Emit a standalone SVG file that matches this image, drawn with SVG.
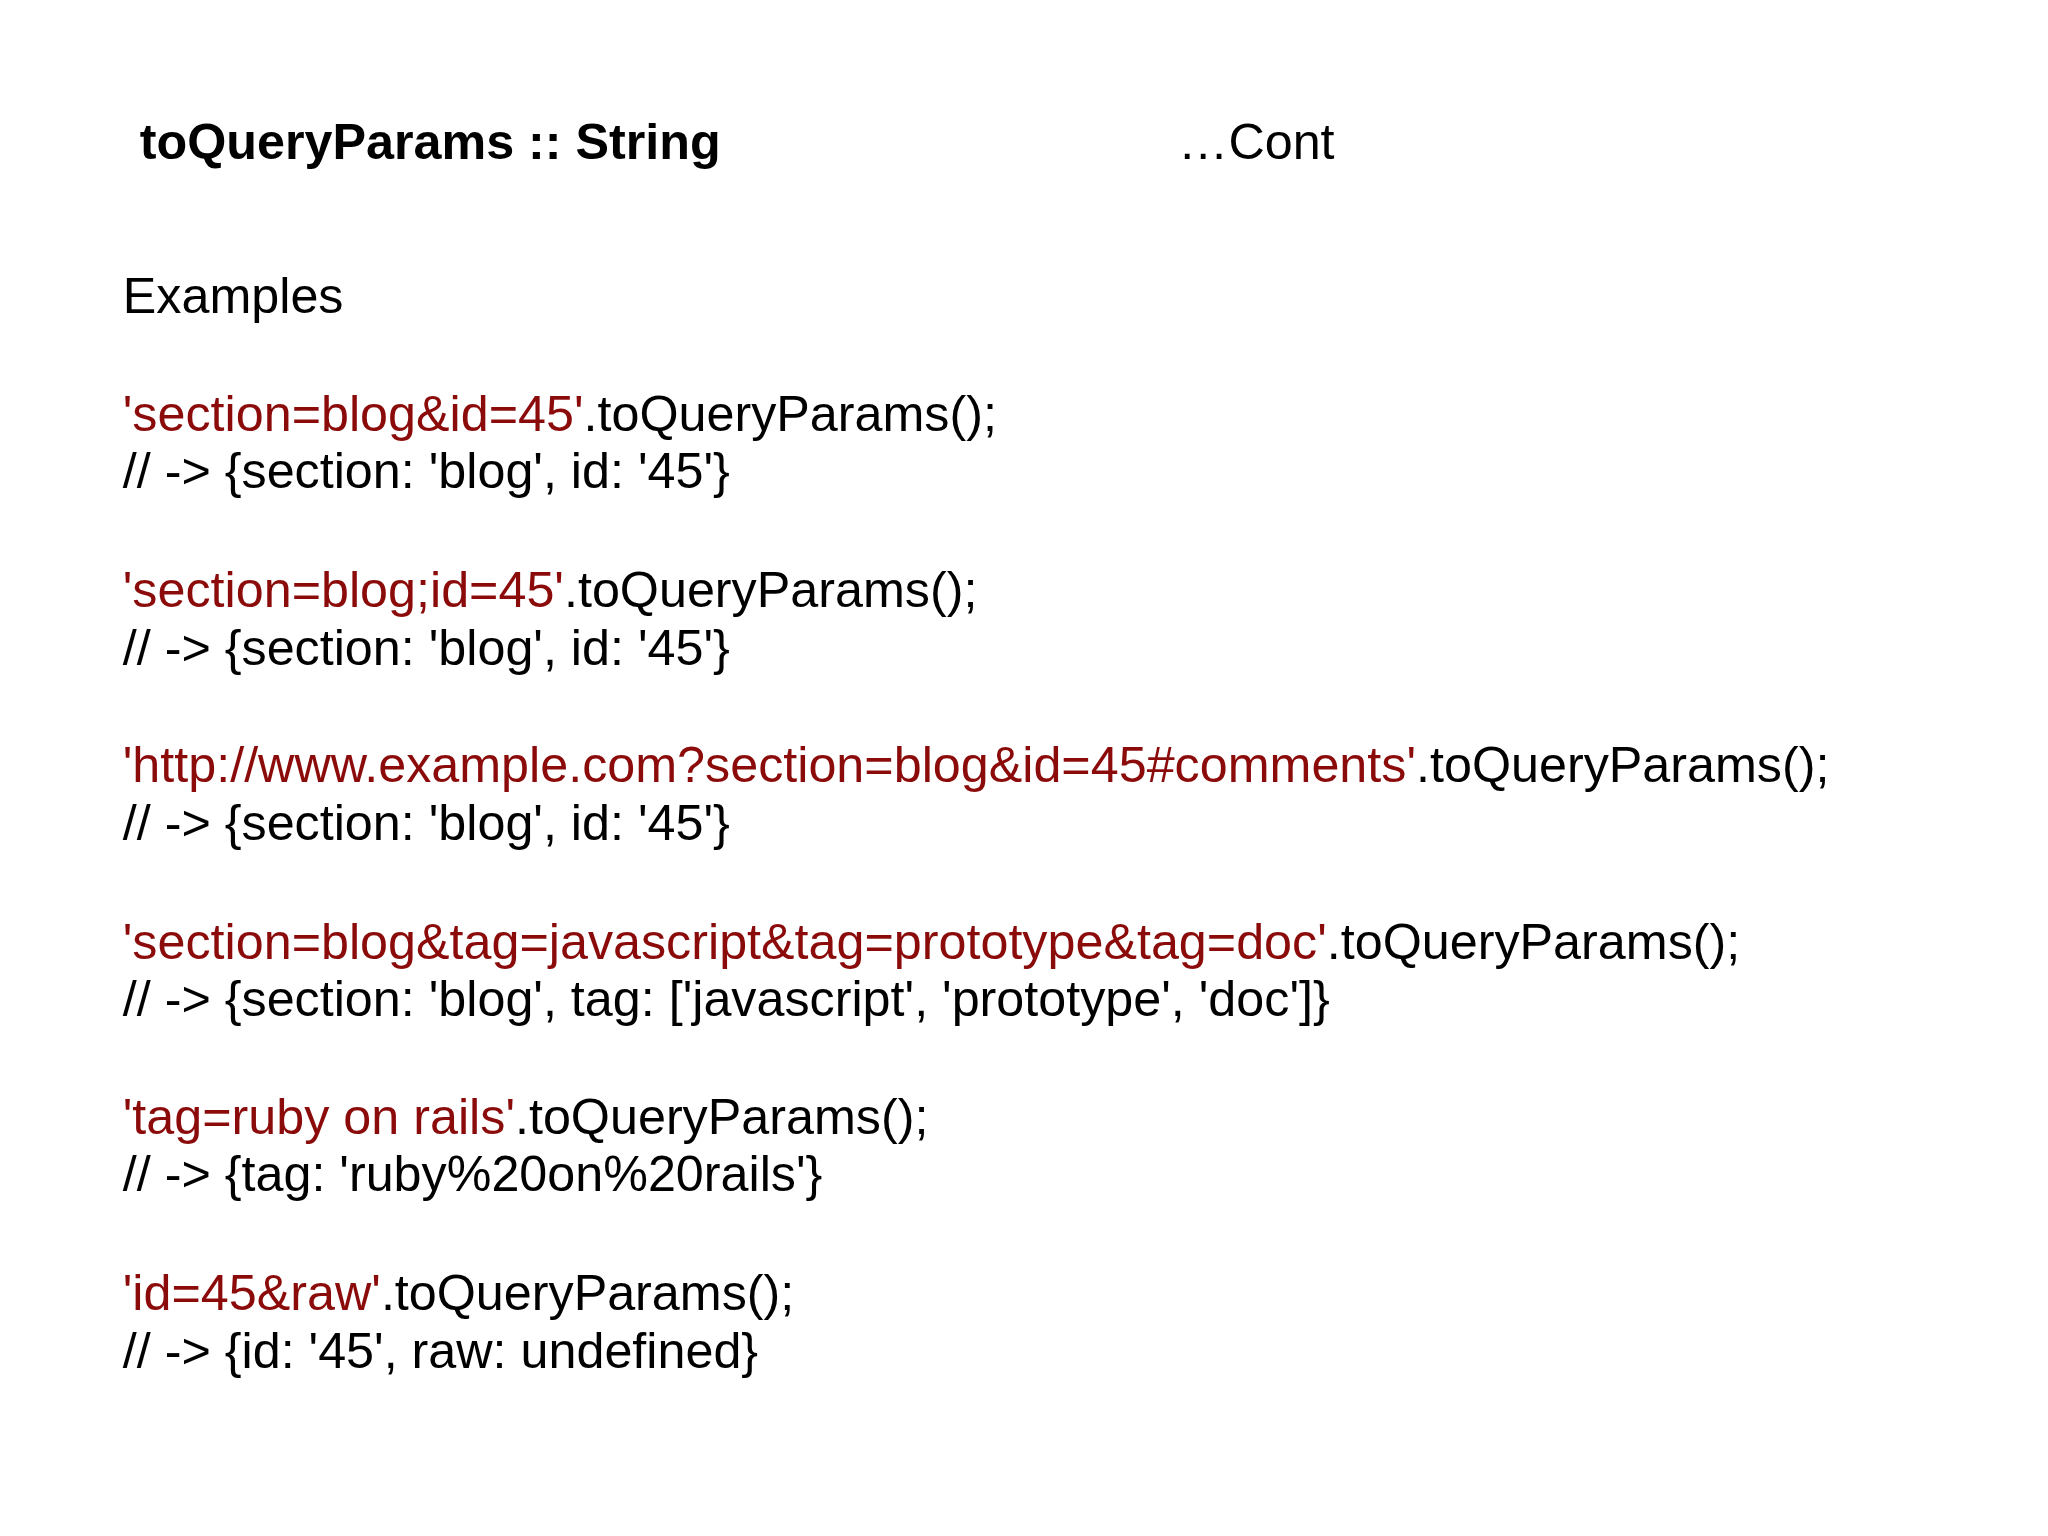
<svg xmlns="http://www.w3.org/2000/svg" width="2048" height="1536" viewBox="0 0 2048 1536">
<style>
text{font-family:"Liberation Sans",Arial,sans-serif;font-size:38.5px;fill:#000}
.r{fill:#8b0a0a}
.b{font-weight:bold}
</style>
<rect width="2048" height="1536" fill="#fff"/>
<g transform="scale(1.30612)">
<g id="title"><text class="b" x="107" y="122">toQueryParams :: String</text><text x="902" y="122">…Cont</text></g>
<g id="examples"><text x="94" y="240">Examples</text></g>
<g id="ex1"><text x="94" y="330"><tspan class="r">'section=blog&amp;id=45'</tspan>.toQueryParams();</text><text x="94" y="374">// -&gt; {section: 'blog', id: '45'}</text></g>
<g id="ex2"><text x="94" y="465"><tspan class="r">'section=blog;id=45'</tspan>.toQueryParams();</text><text x="94" y="509">// -&gt; {section: 'blog', id: '45'}</text></g>
<g id="ex3"><text x="94" y="599"><tspan class="r">'http://www.example.com?section=blog&amp;id=45#comments'</tspan>.toQueryParams();</text><text x="94" y="643">// -&gt; {section: 'blog', id: '45'}</text></g>
<g id="ex4"><text x="94" y="734"><tspan class="r">'section=blog&amp;tag=javascript&amp;tag=prototype&amp;tag=doc'</tspan>.toQueryParams();</text><text x="94" y="778">// -&gt; {section: 'blog', tag: ['javascript', 'prototype', 'doc']}</text></g>
<g id="ex5"><text x="94" y="868"><tspan class="r">'tag=ruby on rails'</tspan>.toQueryParams();</text><text x="94" y="912">// -&gt; {tag: 'ruby%20on%20rails'}</text></g>
<g id="ex6"><text x="94" y="1003"><tspan class="r">'id=45&amp;raw'</tspan>.toQueryParams();</text><text x="94" y="1047">// -&gt; {id: '45', raw: undefined}</text></g>
</g>
</svg>
